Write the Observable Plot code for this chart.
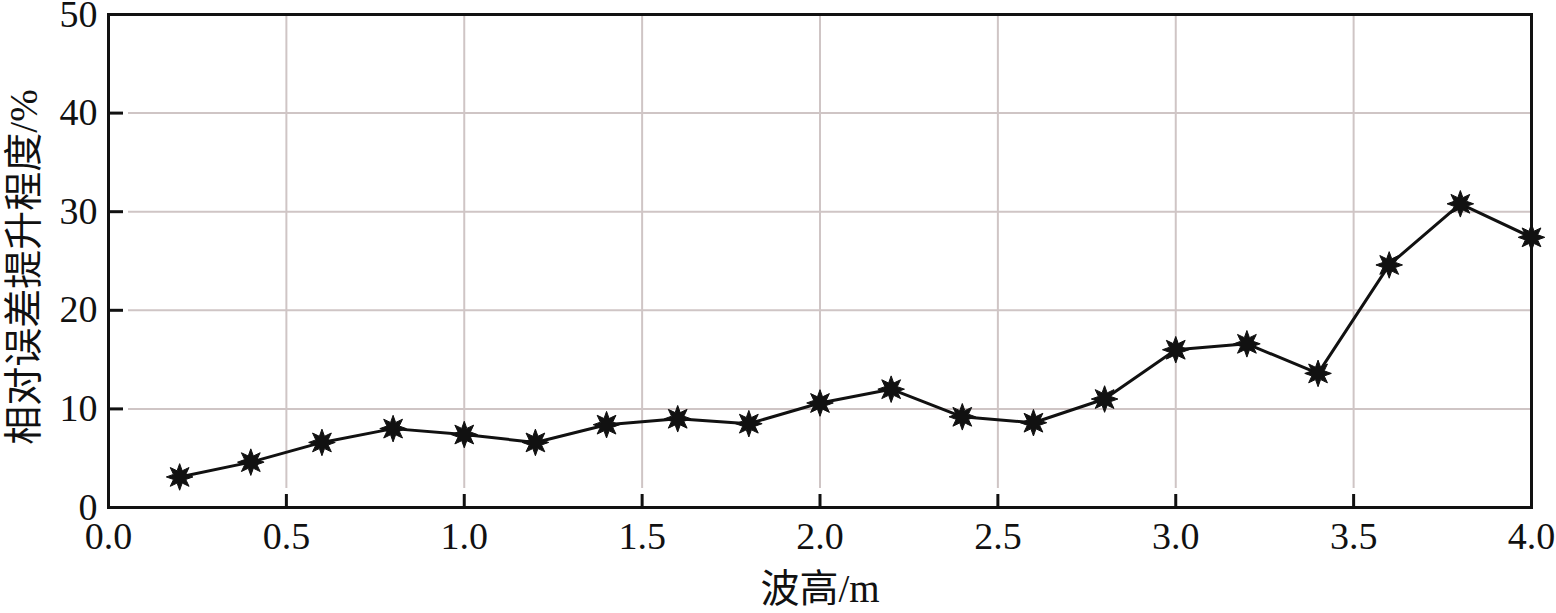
<!DOCTYPE html>
<html>
<head>
<meta charset="utf-8">
<script src="https://cdn.jsdelivr.net/npm/d3@7"></script>
<script src="https://cdn.jsdelivr.net/npm/@observablehq/plot@0.6"></script>
<style>
  html, body { margin: 0; padding: 0; background: #fff; }
</style>
</head>
<body>
<div id="chart"></div>
<script>
// Data
const waveHeight = [0.2, 0.4, 0.6, 0.8, 1.0, 1.2, 1.4, 1.6, 1.8, 2.0, 2.2, 2.4, 2.6, 2.8, 3.0, 3.2, 3.4, 3.6, 3.8, 4.0];
const improvement = [3.1, 4.6, 6.6, 8.0, 7.4, 6.6, 8.4, 9.0, 8.5, 10.6, 12.0, 9.2, 8.6, 11.0, 16.0, 16.6, 13.6, 24.6, 30.8, 27.4];
const xTicks = [0, 0.5, 1.0, 1.5, 2.0, 2.5, 3.0, 3.5, 4.0];
const yTicks = [0, 10, 20, 30, 40, 50];
const xInnerTicks = [0.5, 1.0, 1.5, 2.0, 2.5, 3.0, 3.5];
const yInnerTicks = [10, 20, 30, 40];
const xLabel = "波高/m";
const yLabel = "相对误差提升程度/%";

const data = waveHeight.map((x, i) => ({x, y: improvement[i]}));

// 8-spoke star marker
const star = {
  draw(context, size) {
    const R = Math.sqrt(size) * 0.75;
    const r = R * 0.5;
    const n = 8;
    for (let k = 0; k < 2 * n; k++) {
      const a = (k * Math.PI) / n - Math.PI / 2;
      const rad = k % 2 === 0 ? R : r;
      const px = rad * Math.cos(a), py = rad * Math.sin(a);
      if (k === 0) context.moveTo(px, py); else context.lineTo(px, py);
    }
    context.closePath();
  }
};

const W = 1556, H = 613, mL = 108, mR = 25, mT = 14, mB = 106;
const serif = "'Liberation Serif', 'Noto Sans CJK SC', serif";

const chart = Plot.plot({
  width: W,
  height: H,
  marginLeft: mL,
  marginRight: mR,
  marginTop: mT,
  marginBottom: mB,
  style: {fontFamily: serif, fontSize: "38px", color: "#111", background: "#fff"},
  x: {domain: [0, 4], label: null},
  y: {domain: [0, 50], label: null},
  marks: [
    Plot.gridX(xInnerTicks, {stroke: "#cfc5c5", strokeOpacity: 1, strokeWidth: 2, insetBottom: 19}),
    Plot.gridY(yInnerTicks, {stroke: "#cfc5c5", strokeOpacity: 1, strokeWidth: 2, insetLeft: 20}),
    // inward tick marks
    Plot.ruleX(xInnerTicks, {x: d => d, insetTop: (H - mT - mB) - 13, stroke: "#111", strokeWidth: 3}),
    Plot.ruleY(yInnerTicks, {y: d => d, insetRight: (W - mL - mR) - 15, stroke: "#111", strokeWidth: 3}),
    Plot.axisX(xTicks, {tickSize: 0, tickPadding: 15, tickFormat: d3.format(".1f"), fontSize: 38, fill: "#111", label: null}),
    Plot.axisY(yTicks, {tickSize: 0, tickPadding: 11, fontSize: 38, fill: "#111", label: null}),
    Plot.text([xLabel], {frameAnchor: "bottom", dy: 82, lineAnchor: "middle", textAnchor: "middle", fontSize: 39, fill: "#111", fontFamily: serif}),
    Plot.text([yLabel], {frameAnchor: "left", dx: -84, dy: 6, lineAnchor: "middle", textAnchor: "middle", rotate: -90, fontSize: 39, fill: "#111", fontFamily: serif}),
    Plot.frame({stroke: "#111", strokeWidth: 3}),
    Plot.line(data, {x: "x", y: "y", stroke: "#111", strokeWidth: 3}),
    Plot.dot(data, {x: "x", y: "y", symbol: star, r: 10, fill: "#111", stroke: "#111", strokeWidth: 1})
  ]
});
document.getElementById("chart").appendChild(chart);
</script>
</body>
</html>
